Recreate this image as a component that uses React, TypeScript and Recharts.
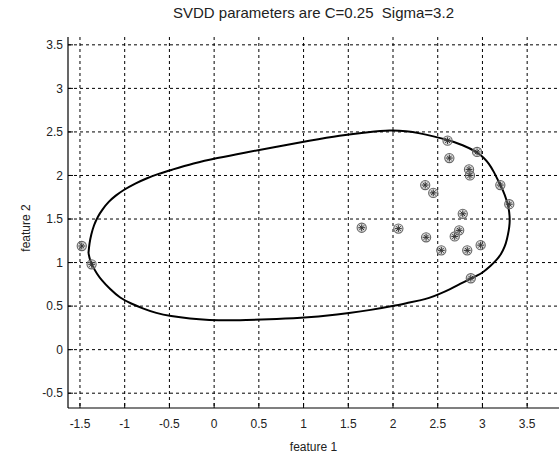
import React from 'react';
import { ScatterChart, Scatter, XAxis, YAxis, CartesianGrid, Customized, Label } from 'recharts';

// Axis tick values
const xTicks = [-1.5, -1, -0.5, 0, 0.5, 1, 1.5, 2, 2.5, 3, 3.5];
const yTicks = [-0.5, 0, 0.5, 1, 1.5, 2, 2.5, 3, 3.5];

// Training samples (feature 1, feature 2)
const sampleX = [-1.48, -1.37, 1.65, 2.06, 2.36, 2.45, 2.37, 2.54, 2.61, 2.63, 2.69, 2.74, 2.78, 2.85, 2.86, 2.83, 2.94, 2.98, 2.87, 3.2, 3.3];
const sampleY = [1.19, 0.98, 1.4, 1.39, 1.89, 1.8, 1.29, 1.14, 2.4, 2.2, 1.3, 1.37, 1.56, 2.07, 2.0, 1.14, 2.27, 1.2, 0.82, 1.89, 1.67];

// SVDD decision boundary, traced as a closed loop
const boundaryX = [
  -1.405, -1.395, -1.375, -1.345, -1.3, -1.25, -1.18, -1.1, -1.02, -0.88, -0.75, -0.62, -0.49, -0.23, 0.03, 0.33, 0.7,
  1.07, 1.4, 1.74, 1.97, 2.15, 2.3, 2.45, 2.61, 2.78, 2.94, 3.02, 3.07, 3.13, 3.18, 3.23, 3.27, 3.295, 3.305, 3.305,
  3.295, 3.275, 3.25, 3.21, 3.16, 3.09, 3.01, 2.94, 2.86, 2.75, 2.64, 2.52, 2.4, 2.3, 2.2, 2.0, 1.75, 1.5, 1.3, 1.07,
  0.7, 0.33, 0.15, -0.05, -0.27, -0.49, -0.65, -0.79, -0.93, -1.05, -1.17, -1.26, -1.31, -1.355, -1.39, -1.405,
];
const boundaryY = [
  1.11, 1.22, 1.32, 1.43, 1.53, 1.61, 1.7, 1.77, 1.83, 1.91, 1.97, 2.02, 2.06, 2.14, 2.2, 2.26, 2.33,
  2.4, 2.46, 2.5, 2.52, 2.51, 2.485, 2.45, 2.41, 2.35, 2.27, 2.2, 2.14, 2.04, 1.93, 1.83, 1.72, 1.62, 1.53, 1.45,
  1.37, 1.27, 1.18, 1.1, 1.03, 0.96, 0.89, 0.85, 0.81, 0.755, 0.695, 0.64, 0.59, 0.565, 0.545, 0.5, 0.455, 0.42, 0.395, 0.37,
  0.35, 0.34, 0.335, 0.34, 0.355, 0.385, 0.42, 0.47, 0.53, 0.59, 0.7, 0.8, 0.87, 0.95, 1.03, 1.11,
];

const samples = sampleX.map((x, i) => ({ x, y: sampleY[i] }));
const boundary = boundaryX.map((x, i) => ({ x, y: boundaryY[i] }));

const FONT = "Arial, 'Liberation Sans', sans-serif";
const W = 560;
const H = 457;
const M = { top: 37, right: 1, bottom: 0, left: 0 };
const Y_AXIS_W = 68;
const X_AXIS_H = 49;

const StarCircle = (props: any) => {
  const { cx, cy } = props;
  if (cx == null || cy == null) return <g />;
  const r = 4.6;
  const s = 3.4;
  const d = s * 0.7071;
  return (
    <g>
      <circle cx={cx} cy={cy} r={r} fill="#aaa" fillOpacity={0.4} stroke="#666" strokeWidth={1.1} />
      <line x1={cx - s} y1={cy} x2={cx + s} y2={cy} stroke="#333" strokeWidth={1} />
      <line x1={cx} y1={cy - s} x2={cx} y2={cy + s} stroke="#333" strokeWidth={1} />
      <line x1={cx - d} y1={cy - d} x2={cx + d} y2={cy + d} stroke="#333" strokeWidth={1} />
      <line x1={cx - d} y1={cy + d} x2={cx + d} y2={cy - d} stroke="#333" strokeWidth={1} />
    </g>
  );
};

const NoDot = () => <g />;

const XTick = (props: any) => {
  const { x, y, payload } = props;
  return (
    <g>
      <line x1={x} x2={x} y1={y} y2={y - 5} stroke="#000" strokeWidth={1} />
      <text x={x} y={y + 20} textAnchor="middle" fontSize={12} fontFamily={FONT} fill="#222">
        {payload.value}
      </text>
    </g>
  );
};

const YTick = (props: any) => {
  const { x, y, payload } = props;
  return (
    <g>
      <line x1={x} x2={x + 5} y1={y} y2={y} stroke="#000" strokeWidth={1} />
      <text x={x - 5} y={y + 4.3} textAnchor="end" fontSize={12} fontFamily={FONT} fill="#222">
        {payload.value}
      </text>
    </g>
  );
};

const Title = () => (
  <text
    x={(Y_AXIS_W + W - M.right) / 2}
    y={18}
    textAnchor="middle"
    fontSize={15}
    fontFamily={FONT}
    fill="#222"
    style={{ whiteSpace: 'pre' }}
  >
    {'SVDD parameters are C=0.25  Sigma=3.2'}
  </text>
);

export default function App() {
  return (
    <div style={{ position: 'absolute', left: 0, top: 0, width: W, height: H, background: '#fff' }}>
      <ScatterChart width={W} height={H} margin={M} style={{ background: '#fff' }}>
        <CartesianGrid
          stroke="#000"
          strokeDasharray="3 3"
          strokeWidth={1}
          horizontalValues={yTicks}
          verticalValues={xTicks}
        />
        <XAxis
          type="number"
          dataKey="x"
          domain={[-1.634, 3.856]}
          ticks={xTicks}
          allowDataOverflow
          height={X_AXIS_H}
          tickSize={0}
          tickMargin={0}
          tickLine={false}
          axisLine={{ stroke: '#000', strokeWidth: 1.2 }}
          tick={<XTick />}
          interval={0}
        >
          <Label
            content={(p: any) => {
              const vb = p.viewBox || { x: Y_AXIS_W, y: 408, width: 491 };
              return (
                <text x={vb.x + vb.width / 2} y={451} textAnchor="middle" fontSize={12} fontFamily={FONT} fill="#222">
                  feature 1
                </text>
              );
            }}
          />
        </XAxis>
        <YAxis
          type="number"
          dataKey="y"
          domain={[-0.67, 3.59]}
          ticks={yTicks}
          allowDataOverflow
          width={Y_AXIS_W}
          tickSize={0}
          tickMargin={0}
          tickLine={false}
          axisLine={{ stroke: '#000', strokeWidth: 1.2 }}
          tick={<YTick />}
          interval={0}
        >
          <Label
            content={() => (
              <text
                x={30}
                y={228}
                transform="rotate(-90 30 228)"
                textAnchor="middle"
                fontSize={12}
                fontFamily={FONT}
                fill="#222"
              >
                feature 2
              </text>
            )}
          />
        </YAxis>
        <Scatter
          data={boundary}
          line={{ stroke: '#000', strokeWidth: 2 }}
          lineJointType="basis"
          shape={<NoDot />}
          isAnimationActive={false}
        />
        <Scatter data={samples} shape={<StarCircle />} isAnimationActive={false} />
        <Customized component={<Title />} />
      </ScatterChart>
    </div>
  );
}
